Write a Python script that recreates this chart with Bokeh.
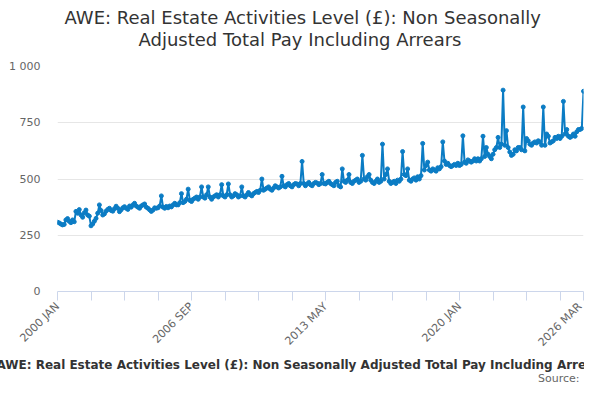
import math
from bokeh.plotting import figure
from bokeh.models import ColumnDataSource, Range1d, FixedTicker, Title
from bokeh.embed import file_html
from bokeh.resources import INLINE

# ---- data (monthly, 2000 JAN .. 2026 MAR), values in £ ----
v2000 = [308, 305, 300, 296, 298, 318, 324, 312, 306, 318, 310, 356]
v2001 = [348, 364, 340, 330, 350, 362, 340, 335, 292, 300, 312, 325]
v2002 = [348, 385, 360, 340, 345, 357, 365, 370, 360, 357, 368, 379]
v2003 = [370, 355, 363, 372, 377, 370, 365, 380, 375, 385, 392, 380]
v2004 = [375, 370, 380, 385, 389, 375, 370, 363, 356, 362, 372, 370]
v2005 = [372, 380, 425, 375, 370, 378, 372, 380, 376, 385, 392, 385]
v2006 = [385, 395, 435, 395, 400, 410, 455, 405, 400, 410, 415, 420]
v2007 = [410, 420, 465, 420, 415, 430, 465, 420, 410, 420, 425, 430]
v2008 = [420, 430, 475, 425, 420, 430, 478, 430, 420, 425, 435, 430]
v2009 = [420, 425, 465, 425, 420, 430, 440, 430, 425, 435, 440, 445]
v2010 = [440, 450, 500, 450, 455, 460, 465, 455, 450, 460, 470, 465]
v2011 = [460, 465, 512, 470, 465, 475, 480, 470, 465, 475, 480, 478]
v2012 = [470, 480, 578, 480, 470, 478, 485, 475, 470, 480, 485, 482]
v2013 = [475, 480, 520, 480, 478, 485, 490, 480, 475, 470, 485, 490]
v2014 = [470, 465, 545, 490, 485, 495, 520, 485, 480, 490, 495, 500]
v2015 = [485, 490, 605, 500, 495, 510, 520, 495, 485, 480, 490, 500]
v2016 = [485, 490, 655, 500, 520, 545, 490, 480, 485, 490, 480, 495]
v2017 = [490, 500, 622, 520, 515, 545, 495, 490, 500, 505, 495, 510]
v2018 = [500, 515, 658, 540, 560, 575, 540, 535, 545, 540, 535, 550]
v2019 = [545, 555, 665, 580, 565, 570, 560, 555, 560, 565, 560, 570]
v2020 = [560, 565, 692, 575, 570, 585, 580, 575, 580, 590, 580, 590]
v2021 = [580, 590, 690, 600, 640, 610, 600, 590, 610, 630, 640, 685]
v2022 = [640, 655, 895, 650, 715, 640, 620, 605, 610, 630, 625, 640]
v2023 = [640, 630, 820, 625, 680, 670, 655, 650, 660, 665, 660, 670]
v2024 = [665, 650, 820, 650, 700, 690, 660, 665, 670, 685, 680, 690]
v2025 = [680, 690, 845, 700, 720, 690, 685, 690, 700, 690, 710, 720]
v2026 = [720, 725, 890]

values = (v2000 + v2001 + v2002 + v2003 + v2004 + v2005 + v2006 + v2007 +
          v2008 + v2009 + v2010 + v2011 + v2012 + v2013 + v2014 + v2015 +
          v2016 + v2017 + v2018 + v2019 + v2020 + v2021 + v2022 + v2023 +
          v2024 + v2025 + v2026)

month_names = ["JAN", "FEB", "MAR", "APR", "MAY", "JUN",
               "JUL", "AUG", "SEP", "OCT", "NOV", "DEC"]
categories = [f"{2000 + i // 12} {month_names[i % 12]}" for i in range(len(values))]

x_label_cats = ["2000 JAN", "2006 SEP", "2013 MAY", "2020 JAN", "2026 MAR"]
y_ticks = [0, 250, 500, 750, 1000]
y_tick_labels = ["0", "250", "500", "750", "1 000"]

title_lines = ["AWE: Real Estate Activities Level (£): Non Seasonally",
               "Adjusted Total Pay Including Arrears"]
caption = "AWE: Real Estate Activities Level (£): Non Seasonally Adjusted Total Pay Including Arrears"
source_text = "Source:"

FONT = "DejaVu Sans"
LINE_COLOR = "#0b7cc4"

idx = list(range(len(values)))
src = ColumnDataSource(dict(x=idx, y=values, cat=categories))

p = figure(width=584, height=384, output_backend="svg", toolbar_location=None,
           x_range=Range1d(0, len(values) - 1), y_range=Range1d(0, 1000),
           min_border_left=57, min_border_right=1, min_border_top=0,
           min_border_bottom=0)
p.outline_line_color = None
p.background_fill_color = "white"
p.border_fill_color = "white"

p.line("x", "y", source=src, line_color=LINE_COLOR, line_width=2)
p.scatter("x", "y", source=src, size=4, fill_color=LINE_COLOR, line_color=LINE_COLOR)

# x axis
last = len(values) - 1
xt = list(range(0, last, 20)) + [last]
p.xaxis.ticker = FixedTicker(ticks=xt)
overrides = {t: "" for t in xt}
for lab in x_label_cats:
    overrides[categories.index(lab)] = lab
p.xaxis.major_label_overrides = overrides
p.xaxis.major_label_orientation = math.pi / 4
p.xaxis.axis_line_color = "#ccd6eb"
p.xaxis.major_tick_line_color = "#ccd6eb"
p.xaxis.major_tick_out = 9
p.xaxis.major_tick_in = 0
p.xaxis.minor_tick_line_color = None
p.xaxis.major_label_text_font = FONT
p.xaxis.major_label_text_font_size = "11px"
p.xaxis.major_label_text_color = "#666666"
p.xaxis.major_label_standoff = 4
p.xgrid.grid_line_color = None

# y axis
p.yaxis.ticker = FixedTicker(ticks=y_ticks)
p.yaxis.major_label_overrides = dict(zip(y_ticks, y_tick_labels))
p.yaxis.axis_line_color = None
p.yaxis.major_tick_line_color = None
p.yaxis.minor_tick_line_color = None
p.yaxis.major_label_text_font = FONT
p.yaxis.major_label_text_font_size = "11px"
p.yaxis.major_label_text_color = "#666666"
p.yaxis.major_label_standoff = 11
p.ygrid.grid_line_color = "#e6e6e6"

# titles: the first one added to "above" sits next to the plot
p.title = None
p.add_layout(Title(text=" ", standoff=9, text_font=FONT, text_font_size="10px",
                   text_color="#ffffff"), "above")
p.add_layout(Title(text=title_lines[1], align="left", offset=81, standoff=-15,
                   vertical_align="top", text_font=FONT, text_font_size="18px",
                   text_font_style="normal", text_color="#333333"), "above")
p.add_layout(Title(text=title_lines[0], align="left", offset=7, standoff=13,
                   vertical_align="top", text_font=FONT, text_font_size="18px",
                   text_font_style="normal", text_color="#333333"), "above")

p.add_layout(Title(text=caption, align="left", offset=-61, standoff=2,
                   vertical_align="top", text_font=FONT, text_font_size="12px",
                   text_font_style="bold", text_color="#333333"), "below")
p.add_layout(Title(text=source_text, align="right", offset=4, standoff=-5,
                   vertical_align="top", text_font=FONT, text_font_size="11px",
                   text_font_style="normal", text_color="#666666"), "below")

open("out.html", "w").write(file_html(p, INLINE))
